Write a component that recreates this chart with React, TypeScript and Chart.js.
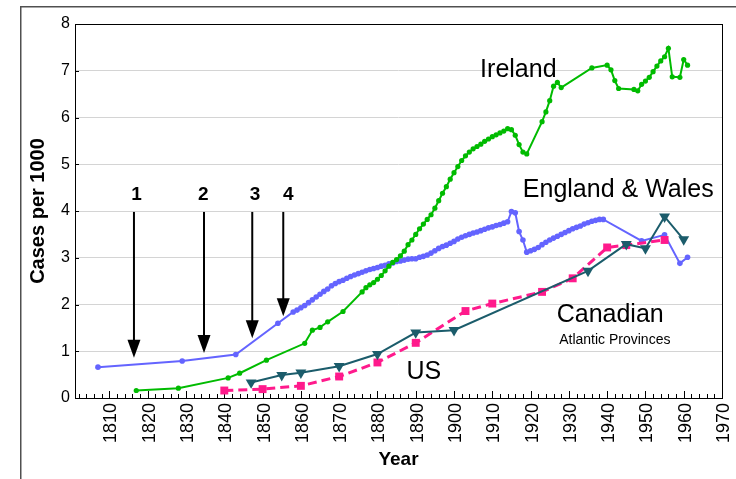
import React, { useEffect, useRef } from "react";
import { Chart, registerables } from "chart.js";

Chart.register(...registerables);

const FONT = "'Liberation Sans', Arial, sans-serif";

// ---- axis ticks ----
const xTickValues = [1810, 1820, 1830, 1840, 1850, 1860, 1870, 1880, 1890, 1900, 1910, 1920, 1930, 1940, 1950, 1960, 1970];
const yTickValues = [0, 1, 2, 3, 4, 5, 6, 7, 8];

// ---- Ireland ----
const irelandYears = [
  1817, 1828, 1841, 1844, 1851, 1861, 1863, 1865, 1867, 1871,
  1876, 1877, 1878, 1879, 1880, 1881, 1882, 1883, 1884, 1885, 1886, 1887, 1888, 1889,
  1890, 1891, 1892, 1893, 1894, 1895, 1896, 1897, 1898, 1899,
  1900, 1901, 1902, 1903, 1904, 1905, 1906, 1907, 1908, 1909,
  1910, 1911, 1912, 1913, 1914, 1915, 1916, 1917, 1918, 1919,
  1923, 1924, 1925, 1926, 1927, 1928, 1936, 1940, 1941, 1942, 1943,
  1947, 1948, 1949, 1950, 1951, 1952, 1953, 1954, 1955, 1956, 1957, 1959, 1960, 1961,
];
const irelandCases = [
  0.16, 0.21, 0.43, 0.53, 0.81, 1.17, 1.45, 1.51, 1.63, 1.85,
  2.27, 2.36, 2.42, 2.47, 2.54, 2.62, 2.72, 2.82, 2.9, 2.96, 3.04, 3.14, 3.28, 3.38,
  3.5, 3.62, 3.72, 3.82, 3.92, 4.06, 4.22, 4.38, 4.52, 4.68,
  4.82, 4.95, 5.08, 5.18, 5.26, 5.33, 5.38, 5.43, 5.49, 5.54,
  5.59, 5.63, 5.67, 5.71, 5.76, 5.74, 5.62, 5.42, 5.26, 5.22,
  5.91, 6.12, 6.36, 6.67, 6.75, 6.64, 7.06, 7.12, 7.02, 6.79, 6.62,
  6.6, 6.57, 6.71, 6.78, 6.86, 6.98, 7.1, 7.21, 7.3, 7.48, 6.87, 6.86, 7.24, 7.12,
];

// ---- England & Wales ----
const englandYears = [
  1807, 1829, 1843, 1854, 1858, 1859,
  1860, 1861, 1862, 1863, 1864, 1865, 1866, 1867, 1868, 1869,
  1870, 1871, 1872, 1873, 1874, 1875, 1876, 1877, 1878, 1879,
  1880, 1881, 1882, 1883, 1884, 1885, 1886, 1887, 1888, 1889,
  1890, 1891, 1892, 1893, 1894, 1895, 1896, 1897, 1898, 1899,
  1900, 1901, 1902, 1903, 1904, 1905, 1906, 1907, 1908, 1909,
  1910, 1911, 1912, 1913, 1914, 1915, 1916, 1917, 1918, 1919,
  1920, 1921, 1922, 1923, 1924, 1925, 1926, 1927, 1928, 1929,
  1930, 1931, 1932, 1933, 1934, 1935, 1936, 1937, 1938, 1939,
  1949, 1955, 1959, 1961,
];
const englandCases = [
  0.66, 0.79, 0.93, 1.6, 1.84, 1.88,
  1.93, 1.98, 2.04, 2.1, 2.16, 2.22, 2.28, 2.33, 2.4, 2.45,
  2.49, 2.52, 2.56, 2.6, 2.63, 2.66, 2.69, 2.72, 2.75, 2.77,
  2.79, 2.82, 2.84, 2.87, 2.89, 2.92, 2.93, 2.95, 2.97, 2.98,
  2.98, 3.01, 3.03, 3.06, 3.1, 3.15, 3.2, 3.24, 3.27, 3.31,
  3.35, 3.4, 3.44, 3.47, 3.5, 3.53, 3.55, 3.58, 3.61, 3.64,
  3.66, 3.69, 3.71, 3.74, 3.77, 3.99, 3.96, 3.56, 3.38, 3.12,
  3.15, 3.18, 3.22, 3.28, 3.33, 3.38, 3.42, 3.46, 3.5, 3.54,
  3.58, 3.62, 3.65, 3.68, 3.72, 3.75, 3.78, 3.8, 3.82, 3.82,
  3.36, 3.49, 2.88, 3.01,
];

// ---- US ----
const usYears = [1840, 1850, 1860, 1870, 1880, 1890, 1903, 1910, 1923, 1931, 1940, 1945, 1955];
const usCases = [0.16, 0.19, 0.26, 0.46, 0.76, 1.18, 1.86, 2.02, 2.27, 2.56, 3.22, 3.27, 3.38];

// ---- Canadian Atlantic Provinces ----
const canadaYears = [1847, 1855, 1860, 1870, 1880, 1890, 1900, 1935, 1945, 1950, 1955, 1960];
const canadaCases = [0.33, 0.49, 0.54, 0.68, 0.94, 1.4, 1.45, 2.72, 3.29, 3.2, 3.88, 3.39];

// ---- annotations (data coordinates) ----
const arrowYears = [1816.4, 1834.7, 1847.3, 1855.4];
const arrowTopValue = 3.98;
const arrowTipValues = [0.86, 0.96, 1.28, 1.75];
const arrowLabels = ["1", "2", "3", "4"];
const arrowLabelYears = [1817.1, 1834.5, 1848.0, 1856.7];
const arrowLabelBaseline = 4.24;

const seriesLabels = ["Ireland", "England & Wales", "Canadian", "Atlantic Provinces", "US"];
const seriesLabelYears = [1916.8, 1942.9, 1940.8, 1942.0, 1892.1];
const seriesLabelBaselines = [6.87, 4.31, 1.63, 1.155, 0.4];
const seriesLabelSizes = [25, 25, 25, 14, 25];

const pts = (xs: number[], ys: number[]) => xs.map((x, i) => ({ x, y: ys[i] }));

const decorPlugin = {
  id: "decor",
  beforeDraw(chart: any) {
    const ctx = chart.ctx;
    ctx.save();
    ctx.fillStyle = "#fff";
    ctx.fillRect(0, 0, chart.width, chart.height);
    ctx.strokeStyle = "#505050";
    ctx.lineWidth = 1.5;
    ctx.beginPath();
    ctx.moveTo(20.75, chart.height);
    ctx.lineTo(20.75, 6.75);
    ctx.lineTo(chart.width, 6.75);
    ctx.stroke();
    ctx.restore();
  },
  beforeDatasetsDraw(chart: any) {
    const { ctx, chartArea: a, scales } = chart;
    const xs = scales.x;
    const ys = scales.y;
    ctx.save();
    ctx.strokeStyle = "#000";
    ctx.lineWidth = 1;
    ctx.beginPath();
    for (const v of yTickValues) {
      const py = Math.round(ys.getPixelForValue(v)) + 0.5;
      ctx.moveTo(a.left, py);
      ctx.lineTo(a.left + 4, py);
    }
    for (let yr = 1802; yr <= 1970; yr += 2) {
      const px = Math.round(xs.getPixelForValue(yr)) + 0.5;
      const len = yr % 10 === 0 ? 7 : 4;
      ctx.moveTo(px, a.bottom);
      ctx.lineTo(px, a.bottom - len);
    }
    ctx.stroke();
    ctx.strokeRect(Math.round(a.left) + 0.5, Math.round(a.top) + 0.5, Math.round(a.right - a.left), Math.round(a.bottom - a.top));
    ctx.restore();
  },
  afterDatasetsDraw(chart: any) {
    const { ctx, scales } = chart;
    const xs = scales.x;
    const ys = scales.y;
    ctx.save();
    ctx.strokeStyle = "#000";
    ctx.fillStyle = "#000";
    ctx.lineWidth = 2;
    arrowYears.forEach((yr, i) => {
      const px = xs.getPixelForValue(yr);
      const top = ys.getPixelForValue(arrowTopValue);
      const tip = ys.getPixelForValue(arrowTipValues[i]);
      ctx.beginPath();
      ctx.moveTo(px, top);
      ctx.lineTo(px, tip - 16);
      ctx.stroke();
      ctx.beginPath();
      ctx.moveTo(px - 6.5, tip - 18);
      ctx.lineTo(px + 6.5, tip - 18);
      ctx.lineTo(px, tip);
      ctx.closePath();
      ctx.fill();
    });
    ctx.textAlign = "center";
    ctx.textBaseline = "alphabetic";
    ctx.font = `bold 19px ${FONT}`;
    arrowLabels.forEach((t, i) => {
      ctx.fillText(t, xs.getPixelForValue(arrowLabelYears[i]), ys.getPixelForValue(arrowLabelBaseline));
    });
    seriesLabels.forEach((t, i) => {
      ctx.font = `${seriesLabelSizes[i]}px ${FONT}`;
      ctx.fillText(t, xs.getPixelForValue(seriesLabelYears[i]), ys.getPixelForValue(seriesLabelBaselines[i]));
    });
    ctx.restore();
  },
};

export default function App() {
  const ref = useRef<HTMLCanvasElement | null>(null);
  useEffect(() => {
    if (!ref.current) return;
    const chart = new Chart(ref.current, {
      type: "line",
      data: {
        datasets: [
          {
            label: "Canadian Atlantic Provinces",
            data: pts(canadaYears, canadaCases),
            borderColor: "#1b5c6b",
            backgroundColor: "#1b5c6b",
            borderWidth: 2,
            pointStyle: "triangle",
            rotation: 180,
            pointRadius: 6.3,
            pointBorderWidth: 0,
          },
          {
            label: "US",
            data: pts(usYears, usCases),
            borderColor: "#ff1a8c",
            backgroundColor: "#ff1a8c",
            borderWidth: 3,
            borderDash: [9, 5],
            pointStyle: "rect",
            pointRadius: 5.6,
            pointBorderWidth: 0,
          },
          {
            label: "Ireland",
            data: pts(irelandYears, irelandCases),
            borderColor: "#00bb00",
            backgroundColor: "#00bb00",
            borderWidth: 2,
            pointStyle: "circle",
            pointRadius: 2.6,
            pointBorderWidth: 0,
          },
          {
            label: "England & Wales",
            data: pts(englandYears, englandCases),
            borderColor: "#6464ff",
            backgroundColor: "#6464ff",
            borderWidth: 2,
            pointStyle: "circle",
            pointRadius: 2.8,
            pointBorderWidth: 0,
          },
        ],
      },
      options: {
        responsive: false,
        animation: false,
        layout: { padding: { top: 24, right: 14, left: 0, bottom: 0 } },
        plugins: { legend: { display: false }, tooltip: { enabled: false } },
        elements: { line: { tension: 0 } },
        scales: {
          x: {
            type: "linear",
            min: 1801,
            max: 1970,
            afterBuildTicks: (s: any) => {
              s.ticks = xTickValues.map((v) => ({ value: v }));
            },
            afterFit: (s: any) => {
              s.height = 81;
              s.paddingLeft = 0;
              s.paddingRight = 0;
            },
            grid: { display: false, drawTicks: false },
            border: { display: false },
            ticks: {
              autoSkip: false,
              minRotation: 90,
              maxRotation: 90,
              padding: 5,
              labelOffset: 2,
              color: "#000",
              font: { family: FONT, size: 18 },
              callback: (v: any) => String(v),
            },
            title: {
              display: true,
              text: "Year",
              color: "#000",
              font: { family: FONT, size: 19, weight: "bold" },
              padding: { top: 0, bottom: 8 },
            },
          },
          y: {
            min: 0,
            max: 8,
            afterBuildTicks: (s: any) => {
              s.ticks = yTickValues.map((v) => ({ value: v }));
            },
            afterFit: (s: any) => {
              s.width = 75;
              s.paddingTop = 0;
              s.paddingBottom = 0;
            },
            grid: { color: "#d4d4d4", lineWidth: 1, drawTicks: false },
            border: { display: false },
            ticks: {
              padding: 5,
              color: "#000",
              font: { family: FONT, size: 16 },
            },
            title: {
              display: true,
              text: "Cases per 1000",
              color: "#000",
              font: { family: FONT, size: 20, weight: "bold" },
              padding: { top: 26, bottom: 0 },
            },
          },
        },
      },
      plugins: [decorPlugin],
    } as any);
    return () => chart.destroy();
  }, []);
  return (
    <div style={{ position: "fixed", left: 0, top: 0, width: 736, height: 479, background: "#fff" }}>
      <canvas ref={ref} width={736} height={479} style={{ display: "block", width: 736, height: 479 }} />
    </div>
  );
}
